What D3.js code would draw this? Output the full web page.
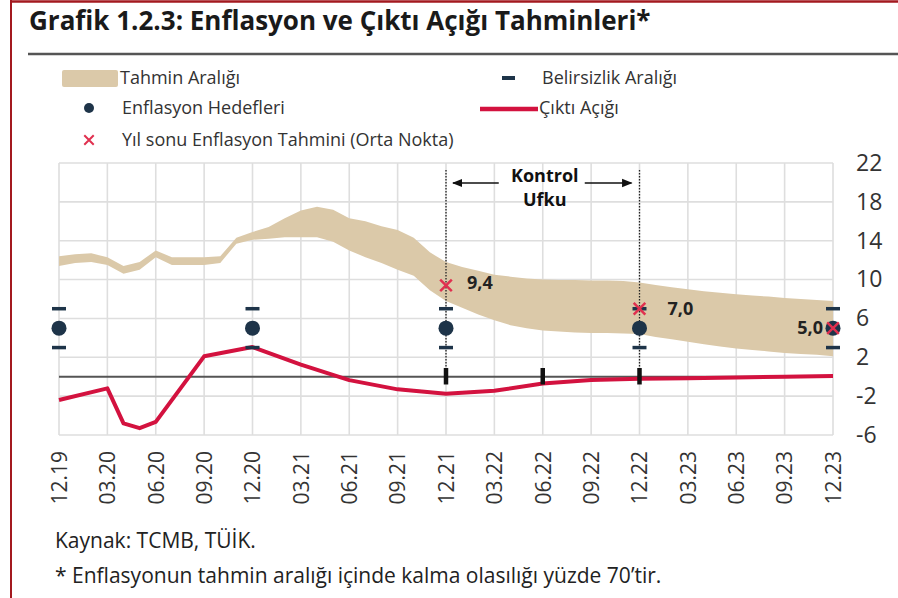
<!DOCTYPE html>
<html lang="tr">
<head>
<meta charset="utf-8">
<title>Grafik 1.2.3</title>
<script src="https://d3js.org/d3.v7.min.js"></script>
<style>
  body { margin: 0; background: #fff; }
  text { font-family: "Open Sans", "DejaVu Sans", sans-serif; }
</style>
</head>
<body>
<div id="chart"></div>
<script>
// quarterly categories on the x axis
var quarters = ["12.19","03.20","06.20","09.20","12.20","03.21","06.21","09.21","12.21",
                "03.22","06.22","09.22","12.22","03.23","06.23","09.23","12.23"];
var yTicks = [22, 18, 14, 10, 6, 2, -2, -6];

// forecast range, monthly from 2019-12 to 2023-12
var bandUpper = [12.4,12.6,12.7,12.3,11.4,11.8,13.0,12.3,12.3,12.3,12.4,14.3,14.9,
                 15.4,16.3,17.1,17.5,17.2,16.3,16.0,15.5,15.1,14.3,12.8,11.8,
                 11.3,10.9,10.5,10.3,10.1,10.0,9.95,9.95,9.9,9.9,9.85,9.7,
                 9.45,9.2,9.0,8.8,8.65,8.5,8.35,8.25,8.1,8.0,7.9,7.8];
var bandLower = [11.4,11.7,11.8,11.5,10.6,11.0,12.3,11.5,11.5,11.5,11.7,13.7,14.1,
                 14.2,14.35,14.35,14.35,13.9,13.0,12.3,11.7,11.0,10.4,8.9,7.8,
                 7.1,6.4,5.8,5.3,5.0,4.75,4.65,4.55,4.5,4.5,4.45,4.4,
                 4.1,3.85,3.6,3.35,3.1,2.9,2.75,2.6,2.45,2.35,2.25,2.1];

// output gap
var gapPeriods = ["2019-12","2020-03","2020-04","2020-05","2020-06","2020-09","2020-12",
                  "2021-03","2021-06","2021-09","2021-12","2022-03","2022-06","2022-09",
                  "2022-12","2023-03","2023-06","2023-09","2023-12"];
var gapValues = [-2.4,-1.2,-4.8,-5.3,-4.65,2.1,3.05,1.25,-0.35,-1.3,-1.75,-1.45,-0.7,-0.35,
                 -0.2,-0.15,-0.07,0.0,0.07];

// inflation targets and uncertainty range
var targetPeriods = ["2019-12","2020-12","2021-12","2022-12","2023-12"];
var targetValues = [5, 5, 5, 5, 5];
var uncertLow = [3, 3, 3, 3, 3];
var uncertHigh = [7, 7, 7, 7, 7];

// year-end inflation forecasts (mid point)
var forecastPeriods = ["2021-12","2022-12","2023-12"];
var forecastValues = [9.4, 7.0, 5.0];
var forecastLabels = ["9,4", "7,0", "5,0"];

// control horizon
var horizonPeriods = ["2021-12","2022-12"];
var zeroMarkPeriods = ["2021-12","2022-06","2022-12"];

function monthIndex(p) {
  var parts = p.split("-");
  return (+parts[0] - 2019) * 12 + (+parts[1] - 12);
}

var W = 898, H = 598;
var svg = d3.select("#chart").append("svg")
  .attr("width", W).attr("height", H);

var x = d3.scaleLinear().domain([0, 48]).range([59, 833]);
var y = d3.scaleLinear().domain([-6, 22]).range([435, 163]);

var navy = "#1e3449", red = "#d3123f", tan = "#dbc9a9", xred = "#e0304f";

// frame
svg.append("line").attr("x1", 11).attr("x2", W).attr("y1", 1.5).attr("y2", 1.5)
  .attr("stroke", "#a3191f").attr("stroke-width", 2.5);
svg.append("line").attr("x1", 11).attr("x2", 11).attr("y1", 0).attr("y2", H)
  .attr("stroke", "#a3191f").attr("stroke-width", 2);

// title
svg.append("text").attr("x", 29).attr("y", 30)
  .attr("font-size", 26).attr("font-weight", 700).attr("fill", "#1a1a1a")
  .text("Grafik 1.2.3: Enflasyon ve Çıktı Açığı Tahminleri*");
svg.append("line").attr("x1", 28).attr("x2", W).attr("y1", 54).attr("y2", 54)
  .attr("stroke", "#555").attr("stroke-width", 2.5);

// legend
var lg = svg.append("g").attr("font-size", 18).attr("fill", "#333");
lg.append("rect").attr("x", 62).attr("y", 70).attr("width", 56).attr("height", 17)
  .attr("rx", 2).attr("fill", tan);
lg.append("text").attr("x", 120).attr("y", 78).attr("dy", "0.35em").text("Tahmin Aralığı");
lg.append("circle").attr("cx", 89).attr("cy", 108).attr("r", 5).attr("fill", navy);
lg.append("text").attr("x", 122).attr("y", 108).attr("dy", "0.35em").text("Enflasyon Hedefleri");
lg.append("path").attr("d", d3.symbol(d3.symbolX, 60)())
  .attr("transform", "translate(89,140)").attr("stroke", xred).attr("stroke-width", 2).attr("fill", "none");
lg.append("text").attr("x", 122).attr("y", 140).attr("dy", "0.35em").text("Yıl sonu Enflasyon Tahmini (Orta Nokta)");
lg.append("line").attr("x1", 502).attr("x2", 515).attr("y1", 78).attr("y2", 78)
  .attr("stroke", navy).attr("stroke-width", 4);
lg.append("text").attr("x", 542).attr("y", 78).attr("dy", "0.35em").text("Belirsizlik Aralığı");
lg.append("line").attr("x1", 480).attr("x2", 538).attr("y1", 109).attr("y2", 109)
  .attr("stroke", red).attr("stroke-width", 4.5);
lg.append("text").attr("x", 539).attr("y", 108).attr("dy", "0.35em").text("Çıktı Açığı");

// grid
var grid = svg.append("g").attr("stroke", "#dedede").attr("stroke-width", 1.6);
grid.selectAll(".v").data(quarters).join("line")
  .attr("x1", function(d, i){ return x(i * 3); }).attr("x2", function(d, i){ return x(i * 3); })
  .attr("y1", y(22)).attr("y2", y(-6));
grid.selectAll(".h").data(yTicks).join("line")
  .attr("x1", x(0)).attr("x2", x(48))
  .attr("y1", function(d){ return y(d); }).attr("y2", function(d){ return y(d); });

// forecast band
var area = d3.area()
  .x(function(d, i){ return x(i); })
  .y0(function(d, i){ return y(bandLower[i]); })
  .y1(function(d, i){ return y(bandUpper[i]); });
svg.append("path").attr("d", area(bandUpper)).attr("fill", tan);

// zero line
svg.append("line").attr("x1", x(0)).attr("x2", x(48)).attr("y1", y(0)).attr("y2", y(0))
  .attr("stroke", "#555").attr("stroke-width", 2);

// control horizon dotted lines
svg.selectAll(".hz").data(horizonPeriods).join("line")
  .attr("x1", function(d){ return x(monthIndex(d)); })
  .attr("x2", function(d){ return x(monthIndex(d)); })
  .attr("y1", 170).attr("y2", y(0))
  .attr("stroke", "#222").attr("stroke-width", 1.3).attr("stroke-dasharray", "1.5,1.5");

// output gap
var line = d3.line()
  .x(function(d, i){ return x(monthIndex(gapPeriods[i])); })
  .y(function(d){ return y(d); });
svg.append("path").attr("d", line(gapValues)).attr("fill", "none")
  .attr("stroke", red).attr("stroke-width", 4).attr("stroke-linejoin", "round");

// black marks on the zero line
svg.selectAll(".zm").data(zeroMarkPeriods).join("line")
  .attr("x1", function(d){ return x(monthIndex(d)); })
  .attr("x2", function(d){ return x(monthIndex(d)); })
  .attr("y1", y(0.9)).attr("y2", y(-0.8))
  .attr("stroke", "#111").attr("stroke-width", 4.5);

// uncertainty range dashes and targets
targetPeriods.forEach(function(p, i) {
  var cx = x(monthIndex(p));
  [uncertLow[i], uncertHigh[i]].forEach(function(v) {
    svg.append("line").attr("x1", cx - 7).attr("x2", cx + 7)
      .attr("y1", y(v)).attr("y2", y(v))
      .attr("stroke", navy).attr("stroke-width", 3.5);
  });
  svg.append("circle").attr("cx", cx).attr("cy", y(targetValues[i])).attr("r", 7.5).attr("fill", navy);
});

// year-end forecasts
var fc = svg.append("g");
fc.selectAll("path").data(forecastValues).join("path")
  .attr("d", d3.symbol(d3.symbolX, 90)())
  .attr("transform", function(d, i){ return "translate(" + x(monthIndex(forecastPeriods[i])) + "," + y(d) + ")"; })
  .attr("stroke", xred).attr("stroke-width", 2.5).attr("fill", "none");
fc.selectAll("text").data(forecastValues).join("text")
  .attr("x", function(d, i){
    var px = x(monthIndex(forecastPeriods[i]));
    return i === forecastValues.length - 1 ? px - 10 : px + (i === 0 ? 21 : 28);
  })
  .attr("y", function(d, i){ return y(d) - (i === 0 ? 3 : 0); })
  .attr("dy", "0.35em")
  .attr("text-anchor", function(d, i){ return i === forecastValues.length - 1 ? "end" : "start"; })
  .attr("font-size", 18).attr("font-weight", 700).attr("fill", "#222")
  .text(function(d, i){ return forecastLabels[i]; });

// Kontrol Ufku annotation
var hx0 = x(monthIndex(horizonPeriods[0])), hx1 = x(monthIndex(horizonPeriods[1]));
var hmid = (hx0 + hx1) / 2;
svg.append("defs").append("marker").attr("id", "arr")
  .attr("viewBox", "0 0 10 10").attr("refX", 9).attr("refY", 5)
  .attr("markerWidth", 7).attr("markerHeight", 7).attr("orient", "auto-start-reverse")
  .append("path").attr("d", "M0,1 L10,5 L0,9 Z").attr("fill", "#111");
svg.append("line").attr("x1", hmid - 44).attr("x2", hx0 + 7).attr("y1", 183).attr("y2", 183)
  .attr("stroke", "#111").attr("stroke-width", 1.5).attr("marker-end", "url(#arr)");
svg.append("line").attr("x1", hmid + 42).attr("x2", hx1 - 8).attr("y1", 183).attr("y2", 183)
  .attr("stroke", "#111").attr("stroke-width", 1.5).attr("marker-end", "url(#arr)");
svg.append("text").attr("x", hmid + 2).attr("y", 182).attr("text-anchor", "middle")
  .attr("font-size", 18).attr("font-weight", 700).attr("fill", "#111").text("Kontrol");
svg.append("text").attr("x", hmid + 2).attr("y", 206).attr("text-anchor", "middle")
  .attr("font-size", 18).attr("font-weight", 700).attr("fill", "#111").text("Ufku");

// y axis on the right
var yAxis = svg.append("g").attr("transform", "translate(856,0)")
  .call(d3.axisRight(y).tickValues(yTicks).tickSize(0).tickPadding(0)
    .tickFormat(function(d){ return String(d); }));
yAxis.select(".domain").remove();
yAxis.selectAll("text").attr("font-size", 23).attr("fill", "#333")
  .attr("font-family", "'Open Sans', sans-serif");

// x axis labels, rotated
var xPos = d3.scalePoint().domain(quarters).range([x(0), x(48)]);
var xAxis = svg.append("g").attr("transform", "translate(0,451)")
  .call(d3.axisBottom(xPos).tickSize(0).tickPadding(0));
xAxis.select(".domain").remove();
xAxis.selectAll("text")
  .attr("font-size", 21).attr("fill", "#333").attr("font-family", "'DejaVu Sans', sans-serif")
  .attr("text-anchor", "end").attr("dy", "0.35em").attr("y", 0).attr("x", 0)
  .attr("transform", "rotate(-90)");

// notes
svg.append("text").attr("x", 55).attr("y", 548).attr("font-size", 21).attr("fill", "#222")
  .text("Kaynak: TCMB, TÜİK.");
svg.append("text").attr("x", 55).attr("y", 583).attr("font-size", 21).attr("fill", "#222")
  .text("* Enflasyonun tahmin aralığı içinde kalma olasılığı yüzde 70’tir.");
</script>
</body>
</html>
